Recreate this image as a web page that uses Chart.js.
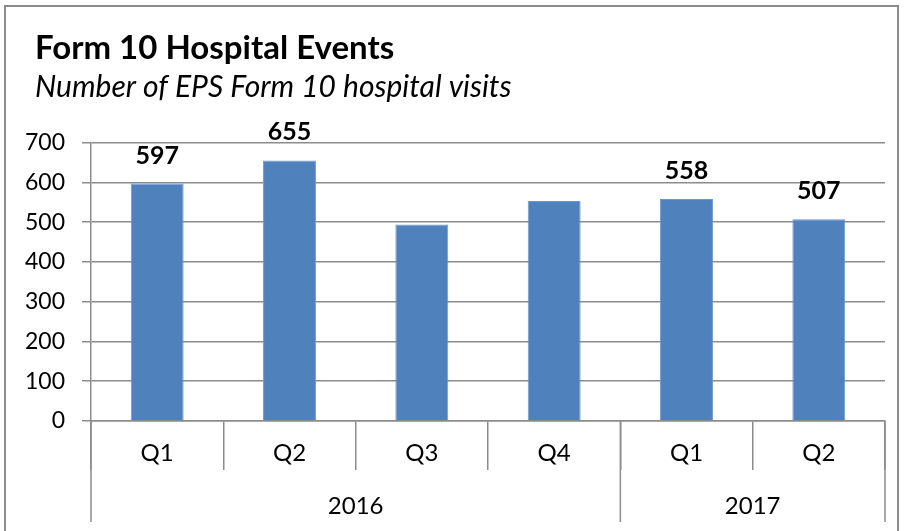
<!DOCTYPE html>
<html>
<head>
<meta charset="utf-8">
<script src="https://cdn.jsdelivr.net/npm/chart.js@4/dist/chart.umd.min.js"></script>
<style>
  body { margin: 0; background: #fff; }
  #frame { position: absolute; left: 4px; top: 5px; width: 891px; height: 540px; border: 2px solid #8c8c8c; }
  #wrap { position: absolute; left: 0; top: 0; width: 904px; height: 531px; }
</style>
</head>
<body>
<div id="frame"></div>
<div id="wrap"><canvas id="chart" width="904" height="531"></canvas></div>
<script>
const quarters = ['Q1', 'Q2', 'Q3', 'Q4', 'Q1', 'Q2'];
const years = ['2016', '2017'];
const yearSpans = [4, 2];
const visits = [597, 655, 494, 553, 558, 507];
const shownLabels = [597, 655, null, null, 558, 507];

const barColor = '#4f81bd';
const lineColor = '#8c8c8c';
const fontFamily = 'Lato, "Liberation Sans", sans-serif';

// title and subtitle sit a bit right of the y tick labels
const shiftTitles = {
    id: 'shiftTitles',
    afterLayout(chart) {
        chart.boxes.forEach(box => {
            if (!box.axis && box.options && box.options.text !== undefined) {
                box.left += 12;
                box.right += 12;
            }
        });
    }
};

const valueLabels = {
    id: 'valueLabels',
    afterDatasetsDraw(chart) {
        const ctx = chart.ctx;
        const meta = chart.getDatasetMeta(0);
        ctx.save();
        ctx.font = 'bold 25px ' + fontFamily;
        ctx.fillStyle = '#000';
        ctx.textAlign = 'center';
        ctx.textBaseline = 'alphabetic';
        meta.data.forEach((bar, i) => {
            if (shownLabels[i] === null) return;
            ctx.fillText(String(shownLabels[i]), bar.x, bar.y - 20);
        });
        ctx.restore();
    }
};

const yearAxis = {
    id: 'yearAxis',
    afterDraw(chart) {
        const ctx = chart.ctx;
        const x = chart.scales.x;
        const step = x.width / quarters.length;
        const top = x.top;
        const bottom = 522;
        ctx.save();
        ctx.strokeStyle = lineColor;
        ctx.lineWidth = 1.5;
        ctx.font = '24px ' + fontFamily;
        ctx.fillStyle = '#000';
        ctx.textAlign = 'center';
        ctx.textBaseline = 'middle';
        let start = 0;
        const edges = [x.getPixelForValue(0) - step / 2];
        years.forEach((year, i) => {
            const end = start + yearSpans[i] - 1;
            const left = x.getPixelForValue(start) - step / 2;
            const right = x.getPixelForValue(end) + step / 2;
            edges.push(right);
            ctx.fillText(year, (left + right) / 2, 506);
            start = end + 1;
        });
        edges.forEach(px => {
            ctx.beginPath();
            ctx.moveTo(px, top);
            ctx.lineTo(px, bottom);
            ctx.stroke();
        });
        ctx.restore();
    }
};

const ctx = document.getElementById('chart').getContext('2d');

new Chart(ctx, {
    type: 'bar',
    data: {
        labels: quarters,
        datasets: [{
            data: visits,
            backgroundColor: barColor,
            borderColor: '#6f97c9',
            borderWidth: 1,
            barPercentage: 0.4,
            categoryPercentage: 1.0,
        }],
    },
    options: {
        responsive: false,
        animation: false,
        layout: {
            padding: { left: 23, right: 19, top: 29, bottom: 0 }
        },
        plugins: {
            legend: { display: false },
            tooltip: { enabled: false },
            title: {
                display: true,
                text: 'Form 10 Hospital Events',
                align: 'start',
                color: '#000',
                font: { family: fontFamily, size: 33, weight: 'bold', lineHeight: 1.2 },
                padding: { top: 0, bottom: 0 }
            },
            subtitle: {
                display: true,
                text: 'Number of EPS Form 10 hospital visits',
                align: 'start',
                color: '#000',
                font: { family: fontFamily, size: 30, style: 'italic', lineHeight: 1.2 },
                padding: { top: 1, bottom: 37 }
            }
        },
        scales: {
            x: {
                afterFit(scale) { scale.height = 110; },
                grid: {
                    offset: true,
                    drawOnChartArea: false,
                    color: lineColor,
                    lineWidth: 1.5,
                    tickLength: 49
                },
                border: { color: lineColor, width: 1.5 },
                ticks: {
                    color: '#000',
                    padding: -31,
                    font: { family: fontFamily, size: 24 }
                }
            },
            y: {
                min: 0,
                max: 700,
                afterFit(scale) { scale.width = 68; },
                grid: {
                    color: lineColor,
                    lineWidth: 1.5,
                    tickLength: 9
                },
                border: { color: lineColor, width: 1.5 },
                ticks: {
                    stepSize: 100,
                    color: '#000',
                    padding: 17,
                    font: { family: fontFamily, size: 23 }
                }
            }
        }
    },
    plugins: [shiftTitles, valueLabels, yearAxis]
});
</script>
</body>
</html>
